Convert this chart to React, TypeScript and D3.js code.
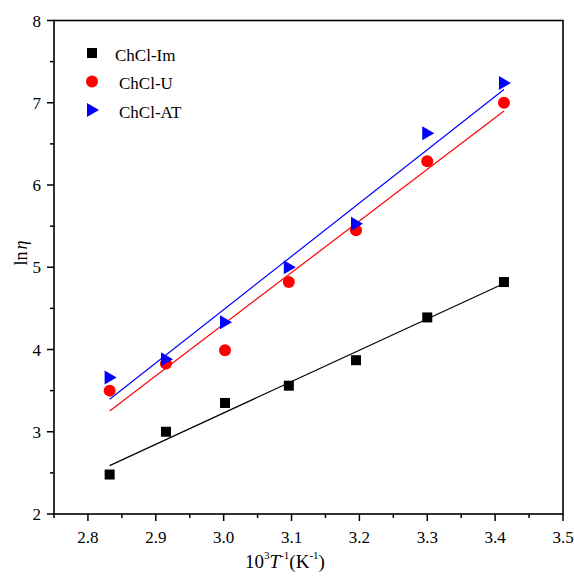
import React from "react";
import * as d3 from "d3";

const invT = [2.832, 2.915, 3.002, 3.096, 3.195, 3.3, 3.413];
const lnIm = [2.48, 3.0, 3.35, 3.56, 3.87, 4.39, 4.82];
const lnU = [3.5, 3.83, 3.99, 4.82, 5.45, 6.29, 7.0];
const lnAT = [3.66, 3.88, 4.33, 5.0, 5.53, 6.63, 7.24];
const seriesNames = ["ChCl-Im", "ChCl-U", "ChCl-AT"];
const xTicks = [2.8, 2.9, 3.0, 3.1, 3.2, 3.3, 3.4, 3.5];
const yTicks = [2, 3, 4, 5, 6, 7, 8];

const W = 574, H = 577;
const L = 54, R = 563, T = 20.5, B = 514;
const FONT = "'Liberation Serif', 'Times New Roman', serif";

function fit(xs: number[], ys: number[]) {
  const mx = d3.mean(xs)!, my = d3.mean(ys)!;
  let sxy = 0, sxx = 0;
  xs.forEach((x, i) => { sxy += (x - mx) * (ys[i] - my); sxx += (x - mx) ** 2; });
  const b = sxy / sxx;
  return (x: number) => my + b * (x - mx);
}

export default function App() {
  const x = d3.scaleLinear().domain([2.75, 3.5]).range([L, R]);
  const y = d3.scaleLinear().domain([2, 8]).range([B, T]);
  const series = [
    { name: seriesNames[0], ys: lnIm, color: "#000000", shape: "square" },
    { name: seriesNames[1], ys: lnU, color: "#ff0000", shape: "circle" },
    { name: seriesNames[2], ys: lnAT, color: "#0000ff", shape: "tri" },
  ];
  const minorX = d3.range(2.75, 3.5, 0.1).map((v) => +v.toFixed(2));
  const minorY = d3.range(2.5, 8, 1);
  const marker = (shape: string, cx: number, cy: number, color: string, key?: any) => {
    if (shape === "square") return <rect key={key} x={cx - 5} y={cy - 5} width={10} height={10} fill={color} />;
    if (shape === "circle") return <circle key={key} cx={cx} cy={cy} r={6} fill={color} />;
    return <path key={key} d={`M${cx - 5},${cy - 7}L${cx + 7},${cy}L${cx - 5},${cy + 7}Z`} fill={color} />;
  };
  const x0 = invT[0], x1 = invT[invT.length - 1];
  return (
    <svg width={W} height={H} style={{ position: "absolute", left: 0, top: 0, background: "#fff" }} fontFamily={FONT}>
      <rect x={0} y={0} width={W} height={H} fill="#fff" />
      {series.map((s) => {
        const f = fit(invT, s.ys);
        return <line key={s.name + "fit"} x1={x(x0)} y1={y(f(x0))} x2={x(x1)} y2={y(f(x1))} stroke={s.color} strokeWidth={1.2} />;
      })}
      {series.map((s) => s.ys.map((v, i) => marker(s.shape, x(invT[i]), y(v), s.color, s.name + i)))}
      <rect x={L} y={T} width={R - L} height={B - T} fill="none" stroke="#000" strokeWidth={1.6} />
      {xTicks.map((t) => (
        <g key={"xt" + t}>
          <line x1={x(t)} x2={x(t)} y1={B} y2={B + 7} stroke="#000" strokeWidth={1.5} />
          <text x={x(t)} y={B + 29} fontSize={17} textAnchor="middle">{t.toFixed(1)}</text>
        </g>
      ))}
      {minorX.map((t) => <line key={"xm" + t} x1={x(t)} x2={x(t)} y1={B} y2={B + 4} stroke="#000" strokeWidth={1.5} />)}
      {yTicks.map((t) => (
        <g key={"yt" + t}>
          <line x1={L - 7} x2={L} y1={y(t)} y2={y(t)} stroke="#000" strokeWidth={1.5} />
          <text x={L - 13} y={y(t) + 6} fontSize={17} textAnchor="end">{t}</text>
        </g>
      ))}
      {minorY.map((t) => <line key={"ym" + t} x1={L - 4} x2={L} y1={y(t)} y2={y(t)} stroke="#000" strokeWidth={1.5} />)}
      {series.map((s, i) => {
        const ly = 53 + i * 28.5;
        return (
          <g key={"lg" + s.name}>
            {marker(s.shape, 92, ly, s.color)}
            <text x={i === 0 ? 115 : 119} y={ly + 7.5} fontSize={17}>{s.name}</text>
          </g>
        );
      })}
      <text transform="translate(27,253) rotate(-90)" fontSize={18} textAnchor="middle">
        ln<tspan fontStyle="italic" dx={2}>η</tspan>
      </text>
      <text x={285} y={568} fontSize={19} textAnchor="middle">
        10<tspan fontSize={11} dy={-9}>3</tspan>
        <tspan fontStyle="italic" dy={9}>T</tspan>
        <tspan fontSize={11} dy={-9}>-1</tspan>
        <tspan dy={9}>(K</tspan>
        <tspan fontSize={11} dy={-9}>-1</tspan>
        <tspan dy={9}>)</tspan>
      </text>
    </svg>
  );
}
